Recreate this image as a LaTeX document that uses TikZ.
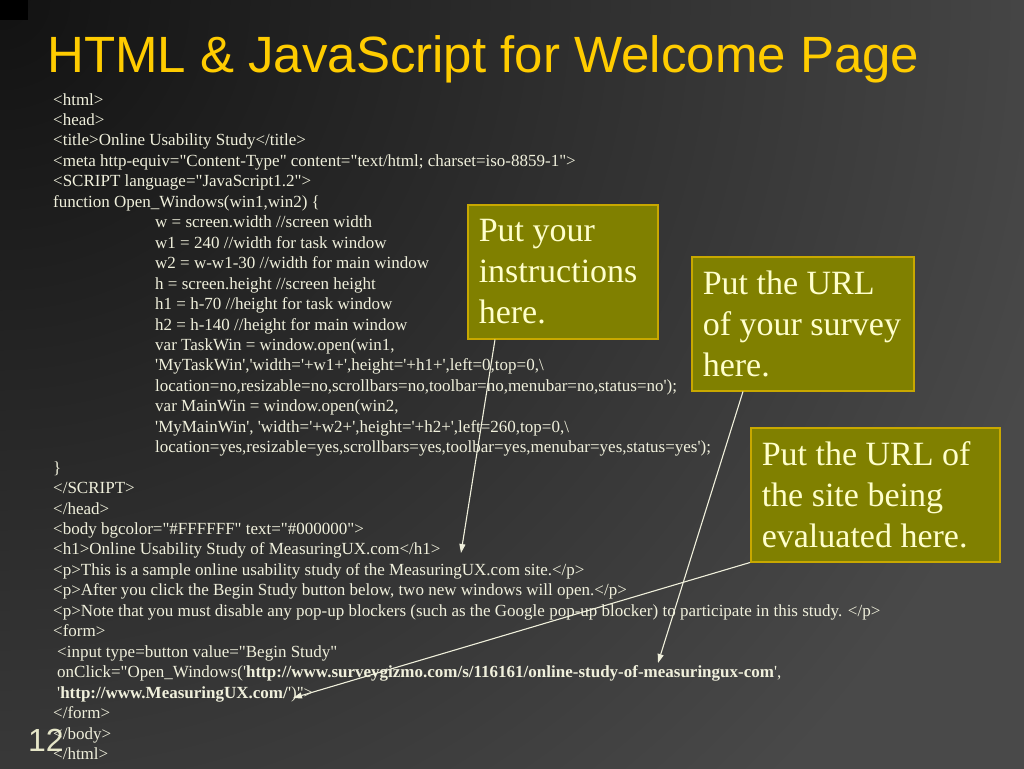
\documentclass[tikz,border=0pt]{standalone}
\usepackage{fontspec}
\setmainfont{Liberation Serif}[Ligatures=TeXOff]
\newfontfamily\titlefont{Liberation Sans}
\usetikzlibrary{positioning, arrows.meta}

\definecolor{slidebg}{HTML}{494949}
\definecolor{slidedark}{HTML}{121212}
\definecolor{titlegold}{HTML}{FFCC00}
\definecolor{codecream}{HTML}{F0F0DC}
\definecolor{numcream}{HTML}{E6E6C8}
\definecolor{boxolive}{HTML}{808000}
\definecolor{boxedge}{HTML}{C8A800}
\definecolor{boxtext}{HTML}{FFFFCC}

\begin{document}
\begin{tikzpicture}[x=1pt, y=-1pt,
  code/.style={anchor=base west, inner sep=0pt, text=codecream, font=\fontsize{17}{20}\selectfont},
  callout/.style={draw=boxedge, line width=1.5pt, fill=boxolive, text=boxtext, anchor=north west,
    align=left, inner xsep=11pt, inner ysep=0pt, minimum height=134pt,
    font=\fontsize{34}{41}\selectfont,
    execute at begin node={\spaceskip=0pt\xspaceskip=0pt\hyphenpenalty=10000\relax}},
  pointer/.style={draw=codecream, line width=1.1pt, -{Triangle[length=9pt,width=6pt]}}]
\useasboundingbox (0,0) rectangle (1024,768);

% slide background
\fill[slidebg] (-4,-4) rectangle (1028,772);
\begin{scope}
\clip (-4,-4) rectangle (1028,772);
\shade[inner color=slidedark, outer color=slidebg] (0,0) circle (1100pt);
\end{scope}
\fill[black] (-4,-4) rectangle (28,20);

\node[anchor=base west, inner sep=0pt, text=titlegold, font=\titlefont\fontsize{51}{60}\selectfont] (title) at (47,72) {HTML \& JavaScript for Welcome Page};
\node[anchor=base west, inner sep=0pt, text=numcream, font=\titlefont\fontsize{32}{38}\selectfont] (pagenum) at (28,751) {12};

% page source
\node[code] (c1) at (53,105.0) {<html>};
\node[code] (c2) at (53,125.5) {<head>};
\node[code] (c3) at (53,145.9) {<title>Online Usability Study</title>};
\node[code] (c4) at (53,166.4) {<meta http-equiv="Content-Type" content="text/html; charset=iso-8859-1">};
\node[code] (c5) at (53,186.8) {<SCRIPT language="JavaScript1.2">};
\node[code] (c6) at (53,207.3) {function Open\_Windows(win1,win2) \{};
\node[code] (c7) at (155,227.7) {w = screen.width //screen width};
\node[code] (c8) at (155,248.2) {w1 = 240 //width for task window};
\node[code] (c9) at (155,268.6) {w2 = w-w1-30 //width for main window};
\node[code] (c10) at (155,289.1) {h = screen.height //screen height};
\node[code] (c11) at (155,309.5) {h1 = h-70 //height for task window};
\node[code] (c12) at (155,330.0) {h2 = h-140 //height for main window};
\node[code] (c13) at (155,350.4) {var TaskWin = window.open(win1,};
\node[code] (c14) at (155,370.9) {'MyTaskWin','width='+w1+',height='+h1+',left=0,top=0,\textbackslash};
\node[code] (c15) at (155,391.3) {location=no,resizable=no,scrollbars=no,toolbar=no,menubar=no,status=no');};
\node[code] (c16) at (155,411.8) {var MainWin = window.open(win2,};
\node[code] (c17) at (155,432.2) {'MyMainWin', 'width='+w2+',height='+h2+',left=260,top=0,\textbackslash};
\node[code] (c18) at (155,452.7) {location=yes,resizable=yes,scrollbars=yes,toolbar=yes,menubar=yes,status=yes');};
\node[code] (c19) at (53,473.1) {\}};
\node[code] (c20) at (53,493.6) {</SCRIPT>};
\node[code] (c21) at (53,514.0) {</head>};
\node[code] (c22) at (53,534.5) {<body bgcolor="\#FFFFFF" text="\#000000">};
\node[code] (c23) at (53,554.9) {<h1>Online Usability Study of MeasuringUX.com</h1>};
\node[code] (c24) at (53,575.4) {<p>This is a sample online usability study of the MeasuringUX.com site.</p>};
\node[code] (c25) at (53,595.8) {<p>After you click the Begin Study button below, two new windows will open.</p>};
\node[code] (c26) at (53,616.3) {<p>Note that you must disable any pop-up blockers (such as the Google pop-up blocker) to participate in this study. </p>};
\node[code] (c27) at (53,636.7) {<form>};
\node[code] (c28) at (57,657.2) {<input type=button value="Begin Study"};
\node[code] (c29) at (57,677.6) {onClick="Open\_Windows('\textbf{http://www.surveygizmo.com/s/116161/online-study-of-measuringux-com}',};
\node[code] (c30) at (57,698.1) {'\textbf{http://www.MeasuringUX.com/}')">};
\node[code] (c31) at (53,718.5) {</form>};
\node[code] (c32) at (53,739.0) {</body>};
\node[code] (c33) at (53,759.4) {</html>};

% callouts
\node[callout, text width=168pt] (instr) at (467,204) {Put your\\instructions\\here.};
\node[callout, text width=200pt] (survey) at (691,256) {Put the URL\\of your survey\\here.};
\node[callout, text width=227pt] (site) at (750,427) {Put the URL of\\the site being\\evaluated here.};

\coordinate (tip1) at (461,553);
\coordinate (tip2) at (658,663);
\coordinate (tip3) at (293,698);
\draw[pointer] ([xshift=28pt]instr.south west) -- (tip1);
\draw[pointer] ([xshift=52pt]survey.south west) -- (tip2);
\draw[pointer] (site.south west) -- (tip3);
\end{tikzpicture}
\end{document}
